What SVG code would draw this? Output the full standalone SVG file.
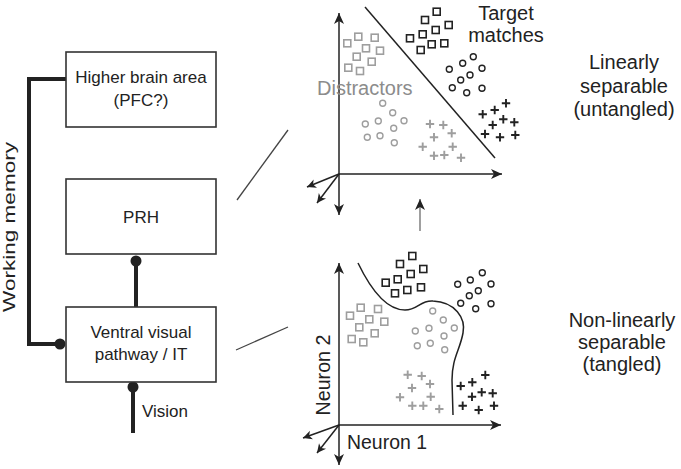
<svg xmlns="http://www.w3.org/2000/svg" xmlns:xlink="http://www.w3.org/1999/xlink" width="681" height="469" viewBox="0 0 681 469">
<style>
text{font-family:"Liberation Sans",Arial,Helvetica,sans-serif;fill:#222}
.box{fill:#fff;stroke:#333;stroke-width:1.6}
.bt{font-size:17px;text-anchor:middle}
.big{font-size:20px;text-anchor:middle}
.thick{stroke:#222;stroke-width:4;fill:none}
.dot{fill:#222}
.axis{stroke:#222;stroke-width:1.5;fill:none}
.thin{stroke:#444;stroke-width:1.3;fill:none}
.blk{stroke:#222;fill:none}
.gry{stroke:#9e9e9e;fill:none}
.sq{stroke-width:1.6}
.ci{stroke-width:1.4}
.pl{stroke-width:1.9}
</style>
<defs>
<marker id="ah" viewBox="-12 -6 13 12" refX="0" refY="0" markerWidth="13" markerHeight="12" markerUnits="userSpaceOnUse" orient="auto-start-reverse">
<path d="M0,0 L-11,-5 L-8,0 L-11,5 Z" fill="#222"/>
</marker>
<marker id="ahs" viewBox="-10 -5 11 10" refX="0" refY="0" markerWidth="11" markerHeight="10" markerUnits="userSpaceOnUse" orient="auto">
<path d="M0,0 L-9,-4.5 L-6.5,0 L-9,4.5 Z" fill="#222"/>
</marker>
<rect id="s" x="-3.5" y="-3.5" width="7" height="7"/>
<circle id="c" r="3"/>
<path id="p" d="M-4.2,0H4.2M0,-4.2V4.2"/>
</defs>

<g id="connectors">
<path class="thick" d="M66,79 H29 V344 H60"/>
<circle class="dot" cx="60" cy="344" r="5.5"/>
<path class="thick" d="M136,261 V307"/>
<circle class="dot" cx="136" cy="261" r="5.5"/>
<path class="thick" d="M133,387 V433"/>
<circle class="dot" cx="133" cy="387" r="5.5"/>
<path class="thin" d="M237,200 L288,130"/>
<path class="thin" d="M236,350 L288,327"/>
<path d="M420,231 V199" stroke="#777" stroke-width="1.4" marker-end="url(#ah)"/>
</g>

<g id="higher">
<rect class="box" x="66" y="52" width="150" height="75"/>
<text class="bt" x="141" y="83">Higher brain area</text>
<text class="bt" x="141" y="106">(PFC?)</text>
</g>
<g id="prh">
<rect class="box" x="66" y="179" width="150" height="75"/>
<text class="bt" x="141" y="223">PRH</text>
</g>
<g id="ventral">
<rect class="box" x="66" y="307" width="150" height="75"/>
<text class="bt" x="141" y="338">Ventral visual</text>
<text class="bt" x="141" y="359.5">pathway / IT</text>
</g>
<g id="labels-left">
<text class="bt" x="0" y="0" transform="translate(15,227) rotate(-90)" textLength="170" lengthAdjust="spacingAndGlyphs">Working memory</text>
<text x="142" y="417" style="font-size:17px">Vision</text>
</g>

<g id="top-plot">
<path class="axis" d="M339,13 V215" marker-start="url(#ah)" marker-end="url(#ah)"/>
<path class="axis" d="M339,174 H502" marker-end="url(#ah)"/>
<path class="axis" d="M339,174 L307,187" marker-end="url(#ahs)"/>
<path class="axis" d="M339,174 L317,203" marker-end="url(#ahs)"/>
<path class="axis" d="M365,7 L495,158"/>
<g class="blk sq">
<use xlink:href="#s" x="436.7" y="11.7"/><use xlink:href="#s" x="425" y="20"/><use xlink:href="#s" x="448.7" y="25"/>
<use xlink:href="#s" x="435.7" y="30"/><use xlink:href="#s" x="410" y="38.3"/><use xlink:href="#s" x="422.7" y="34.3"/>
<use xlink:href="#s" x="420.7" y="50"/><use xlink:href="#s" x="431.7" y="44.3"/><use xlink:href="#s" x="444.3" y="43.3"/>
</g>
<g class="blk ci">
<use xlink:href="#c" x="473.3" y="56.7"/><use xlink:href="#c" x="462.7" y="63.3"/><use xlink:href="#c" x="449.3" y="69.3"/>
<use xlink:href="#c" x="482" y="68.3"/><use xlink:href="#c" x="470" y="75"/><use xlink:href="#c" x="460.7" y="80"/>
<use xlink:href="#c" x="452.3" y="87.7"/><use xlink:href="#c" x="466.7" y="92.7"/><use xlink:href="#c" x="482" y="88.3"/>
</g>
<g class="blk pl">
<use xlink:href="#p" x="506" y="103.3"/><use xlink:href="#p" x="494.7" y="110"/><use xlink:href="#p" x="482.7" y="114.3"/>
<use xlink:href="#p" x="503.3" y="119.3"/><use xlink:href="#p" x="492.7" y="125"/><use xlink:href="#p" x="514.3" y="122.3"/>
<use xlink:href="#p" x="485" y="134"/><use xlink:href="#p" x="500" y="137.3"/><use xlink:href="#p" x="515.3" y="135"/>
</g>
<g class="gry sq">
<use xlink:href="#s" x="358.3" y="36.7"/><use xlink:href="#s" x="374.7" y="37.7"/><use xlink:href="#s" x="347.3" y="43.3"/>
<use xlink:href="#s" x="366" y="48.3"/><use xlink:href="#s" x="380" y="50.7"/><use xlink:href="#s" x="356.7" y="56.7"/>
<use xlink:href="#s" x="371.7" y="61.7"/><use xlink:href="#s" x="348.3" y="67.7"/><use xlink:href="#s" x="360" y="71"/>
</g>
<g class="gry ci">
<use xlink:href="#c" x="382.7" y="103.3"/><use xlink:href="#c" x="392.7" y="112.7"/><use xlink:href="#c" x="378.3" y="121"/>
<use xlink:href="#c" x="404" y="120.7"/><use xlink:href="#c" x="365.3" y="124"/><use xlink:href="#c" x="393.7" y="128.3"/>
<use xlink:href="#c" x="380" y="135.7"/><use xlink:href="#c" x="367.3" y="137.3"/><use xlink:href="#c" x="394.3" y="142.7"/>
</g>
<g class="gry pl">
<use xlink:href="#p" x="430" y="124"/><use xlink:href="#p" x="443.3" y="125"/><use xlink:href="#p" x="451.7" y="133.3"/>
<use xlink:href="#p" x="434" y="137.3"/><use xlink:href="#p" x="422.7" y="146.7"/><use xlink:href="#p" x="452.7" y="146.7"/>
<use xlink:href="#p" x="434" y="155.7"/><use xlink:href="#p" x="444.3" y="155"/><use xlink:href="#p" x="461" y="157.7"/>
</g>
<text x="317" y="95" style="font-size:20px;fill:#8c8c8c">Distractors</text>
<text class="big" x="506" y="19.5">Target</text>
<text class="big" x="506" y="41.5">matches</text>
</g>

<g id="bottom-plot">
<path class="axis" d="M339,263 V465" marker-start="url(#ah)" marker-end="url(#ah)"/>
<path class="axis" d="M339,425 H501" marker-end="url(#ah)"/>
<path class="axis" d="M339,425 L303,438" marker-end="url(#ahs)"/>
<path class="axis" d="M339,425 L317,453" marker-end="url(#ahs)"/>
<path class="axis" d="M358,263 C372,292 388,310 405,310 C418,310 420,300 433,301 C455,302 466,318 463,333 C460,350 452,358 452,380 L453,415"/>
<g class="blk sq">
<use xlink:href="#s" x="412.3" y="256"/><use xlink:href="#s" x="400" y="264"/><use xlink:href="#s" x="423.3" y="269"/>
<use xlink:href="#s" x="410.7" y="274"/><use xlink:href="#s" x="385.7" y="282.7"/><use xlink:href="#s" x="397.7" y="279.3"/>
<use xlink:href="#s" x="395" y="293.3"/><use xlink:href="#s" x="407.3" y="290"/><use xlink:href="#s" x="421" y="287.3"/>
</g>
<g class="blk ci">
<use xlink:href="#c" x="482.3" y="272.7"/><use xlink:href="#c" x="470.3" y="280"/><use xlink:href="#c" x="457.7" y="284.3"/>
<use xlink:href="#c" x="491" y="284"/><use xlink:href="#c" x="478.3" y="290.7"/><use xlink:href="#c" x="469.3" y="295.7"/>
<use xlink:href="#c" x="460.7" y="303.3"/><use xlink:href="#c" x="475.7" y="308.7"/><use xlink:href="#c" x="491" y="303.7"/>
</g>
<g class="blk pl">
<use xlink:href="#p" x="485.3" y="375"/><use xlink:href="#p" x="472.3" y="382.3"/><use xlink:href="#p" x="460.7" y="386"/>
<use xlink:href="#p" x="492.7" y="393.3"/><use xlink:href="#p" x="481.7" y="392.3"/><use xlink:href="#p" x="472" y="396.7"/>
<use xlink:href="#p" x="462.7" y="405.7"/><use xlink:href="#p" x="478.7" y="410"/><use xlink:href="#p" x="494" y="405.7"/>
</g>
<g class="gry sq">
<use xlink:href="#s" x="360.7" y="307.7"/><use xlink:href="#s" x="378" y="309"/><use xlink:href="#s" x="350" y="315.7"/>
<use xlink:href="#s" x="369.3" y="319.3"/><use xlink:href="#s" x="384.3" y="321.7"/><use xlink:href="#s" x="359.3" y="327.3"/>
<use xlink:href="#s" x="374.7" y="333.3"/><use xlink:href="#s" x="351.7" y="339"/><use xlink:href="#s" x="363.3" y="342.3"/>
</g>
<g class="gry ci">
<use xlink:href="#c" x="432.7" y="311"/><use xlink:href="#c" x="443.3" y="320"/><use xlink:href="#c" x="415.3" y="331"/>
<use xlink:href="#c" x="429" y="328.3"/><use xlink:href="#c" x="454.3" y="328"/><use xlink:href="#c" x="444" y="336"/>
<use xlink:href="#c" x="417.3" y="345.7"/><use xlink:href="#c" x="430.3" y="343.3"/><use xlink:href="#c" x="444.7" y="349.7"/>
</g>
<g class="gry pl">
<use xlink:href="#p" x="407.7" y="374.7"/><use xlink:href="#p" x="421.7" y="376"/><use xlink:href="#p" x="430" y="384"/>
<use xlink:href="#p" x="412" y="388"/><use xlink:href="#p" x="400" y="397.3"/><use xlink:href="#p" x="430.7" y="396.7"/>
<use xlink:href="#p" x="412.3" y="405.7"/><use xlink:href="#p" x="423.3" y="405.7"/><use xlink:href="#p" x="439.3" y="409"/>
</g>
<text x="347" y="449" style="font-size:19.5px" textLength="80" lengthAdjust="spacingAndGlyphs">Neuron 1</text>
<text class="big" x="0" y="0" transform="translate(330,375) rotate(-90)" textLength="81" lengthAdjust="spacingAndGlyphs">Neuron 2</text>
</g>

<g id="right-labels">
<text class="big" x="624" y="69">Linearly</text>
<text class="big" x="624" y="93">separable</text>
<text class="big" x="624" y="116">(untangled)</text>
<text class="big" x="622" y="327">Non-linearly</text>
<text class="big" x="622" y="349">separable</text>
<text class="big" x="622" y="371">(tangled)</text>
</g>
</svg>
